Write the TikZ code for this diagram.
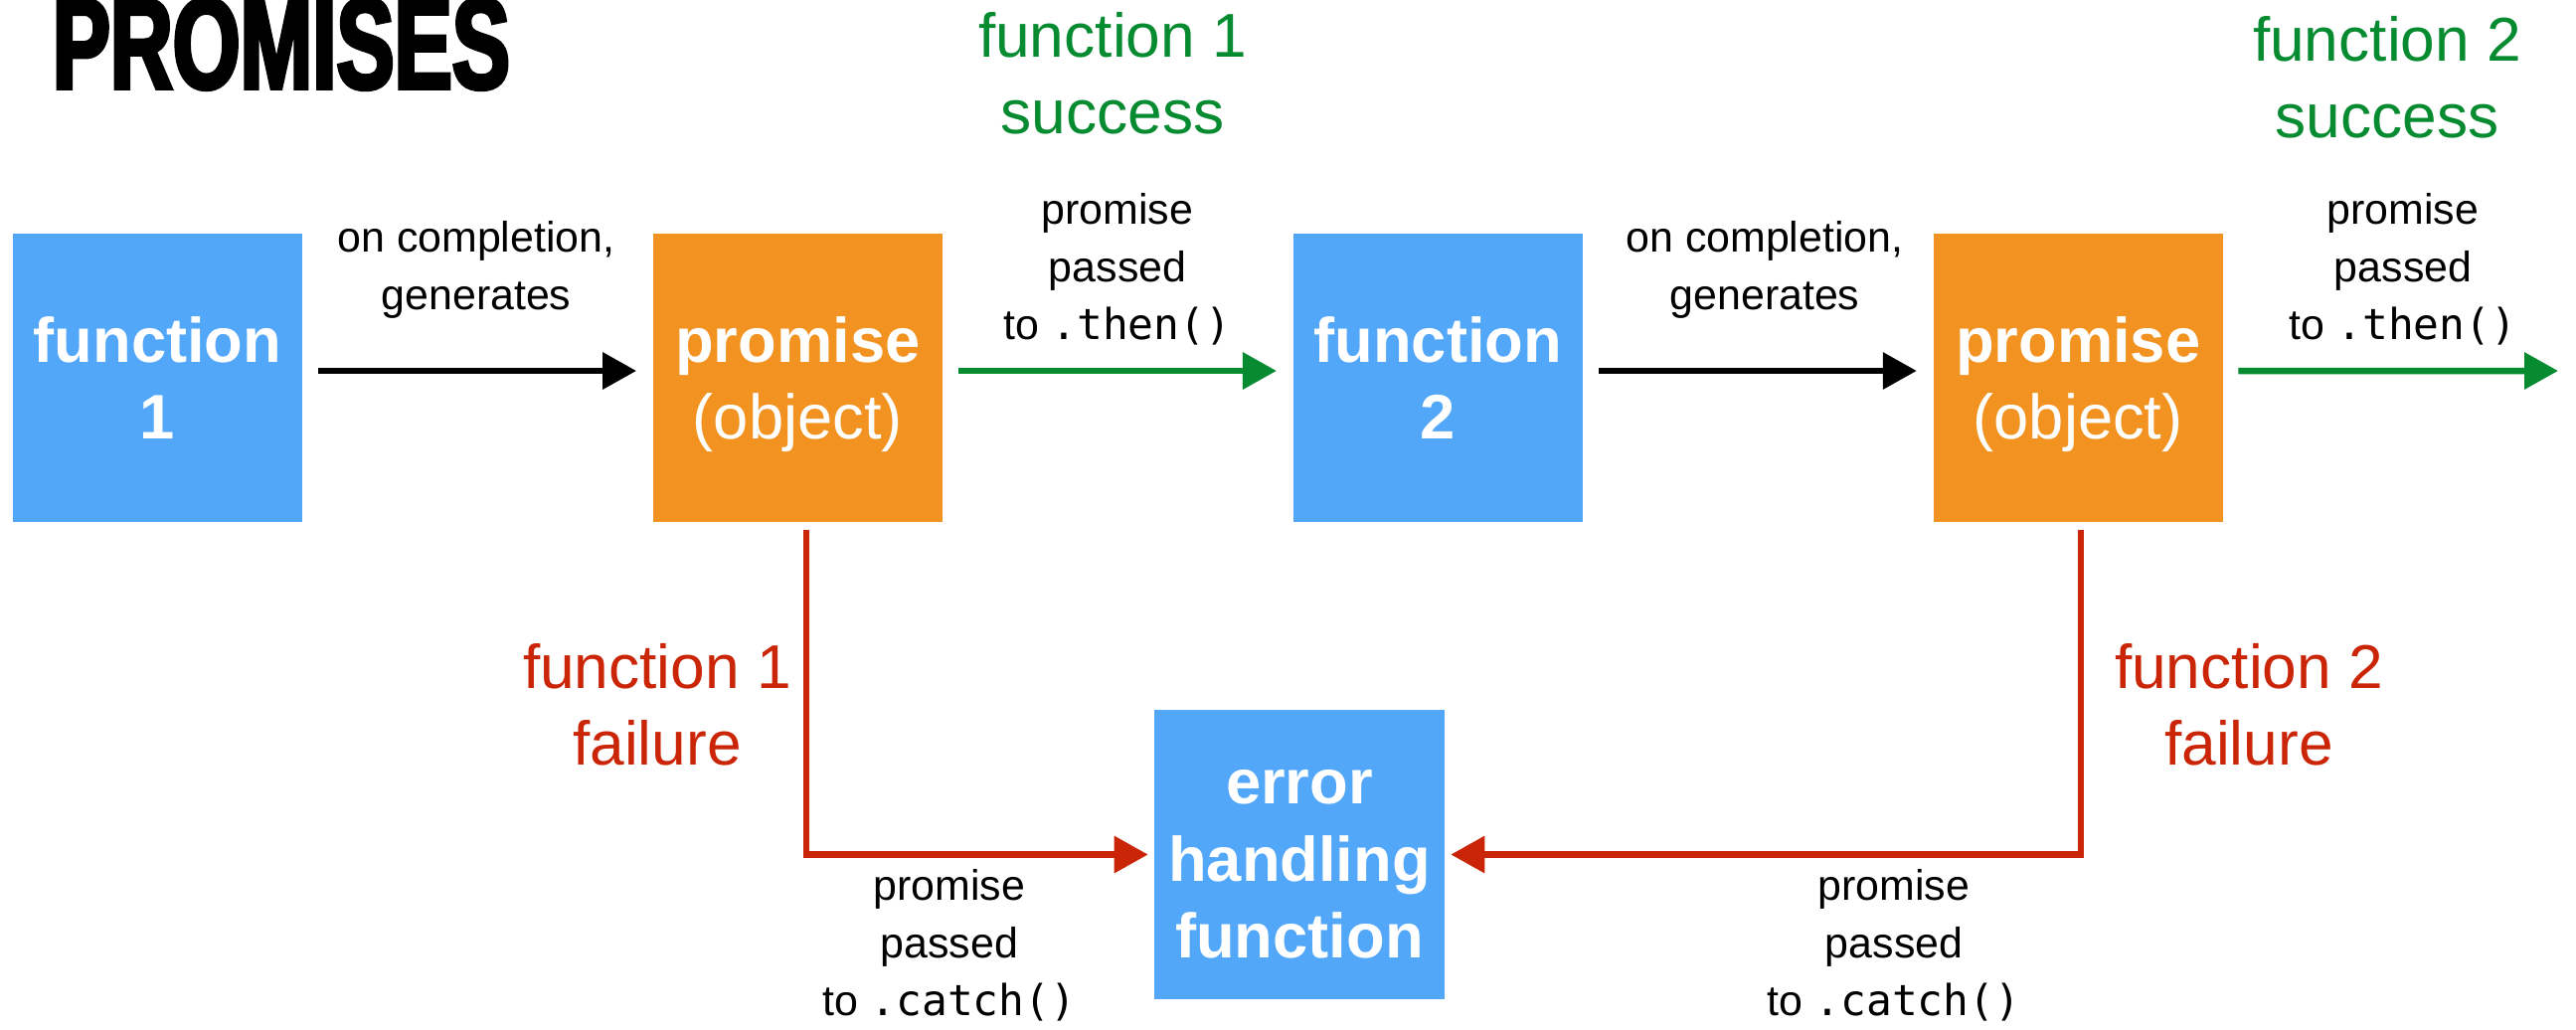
\documentclass[tikz,border=0pt]{standalone}
\usepackage{fontspec}
\setmainfont{Liberation Sans}
\setmonofont{DejaVu Sans Mono}
\newfontfamily\titlefont[FakeStretch=0.67,BoldFeatures={FakeBold=3}]{Liberation Sans}
\usepackage{xcolor}
\usetikzlibrary{arrows.meta,positioning}

\definecolor{fnblue}{HTML}{52A7F9}
\definecolor{prorange}{HTML}{F29220}
\definecolor{okgreen}{HTML}{078B31}
\definecolor{failred}{HTML}{CB2507}

\tikzset{
  box/.style={minimum width=2.91cm, minimum height=2.9cm, inner sep=0pt,
    text=white, align=center, font=\fontsize{18}{22}\selectfont},
  fnbox/.style={box, fill=fnblue, font=\fontsize{18}{22}\selectfont\bfseries},
  promisebox/.style={box, fill=prorange},
  note/.style={align=center, font=\fontsize{12.2}{16.5}\selectfont},
  oknote/.style={align=center, text=okgreen, font=\fontsize{17.7}{22}\selectfont},
  failnote/.style={oknote, text=failred},
  flow/.style={-{Triangle[length=0.34cm,width=0.36cm]}, line width=0.065cm,
    shorten <=0.15cm, shorten >=0.16cm},
  okflow/.style={flow, okgreen},
  failflow/.style={flow, failred, shorten <=0.07cm, shorten >=0.06cm},
}

\begin{document}
\begin{tikzpicture}[x=0.01cm, y=-0.01cm, node distance=6.435cm, on grid]
  \useasboundingbox (0,0) rectangle (2591,1035);

  \node[anchor=base west, inner sep=0pt] (title) at (52,89) {\titlefont\bfseries\fontsize{37}{37}\selectfont PROMISES};

  % main chain
  \node[fnbox] (f1) at (158.5,380) {function\\1};
  \node[promisebox] (p1) [right=of f1] {\textbf{promise}\\\smash{(object)}};
  \node[fnbox] (f2) [right=of p1] {function\\2};
  \node[promisebox] (p2) [right=of f2] {\textbf{promise}\\\smash{(object)}};
  \node[fnbox] (err) at (1307,859.5) {\strut error\\handling\\function};
  \coordinate (next) at (2573,373);

  \draw[flow] ([yshift=0.07cm]f1.east) -- ([yshift=0.07cm]p1.west);
  \draw[okflow] ([yshift=0.07cm]p1.east) -- ([yshift=0.07cm]f2.west);
  \draw[flow] ([yshift=0.07cm]f2.east) -- ([yshift=0.07cm]p2.west);
  \draw[okflow, shorten >=0pt] ([yshift=0.07cm]p2.east) -- (next);

  % failures go to the catch handler
  \draw[failflow] ([xshift=0.085cm]p1.south) |- (err.west);
  \draw[failflow] ([xshift=0.03cm]p2.south) |- (err.east);

  % labels
  \node[note] (gen1) at (479,271) {on completion,\\generates};
  \node[note] (gen2) at (1775,271) {on completion,\\generates};
  \node[note] (then1) at (1124,271) {promise\\passed\\to \texttt{.then()}};
  \node[note] (then2) at (2417,271) {promise\\passed\\to \texttt{.then()}};
  \node[note] (catch1) at (955,951) {promise\\passed\\to \texttt{.catch()}};
  \node[note] (catch2) at (1905,951) {promise\\passed\\to \texttt{.catch()}};
  \node[oknote] (ok1) at (1119,74) {function 1\\success};
  \node[oknote] (ok2) at (2401,78) {function 2\\success};
  \node[failnote] (fail1) at (661,709) {function 1\\failure};
  \node[failnote] (fail2) at (2262,709) {function 2\\failure};
\end{tikzpicture}
\end{document}
